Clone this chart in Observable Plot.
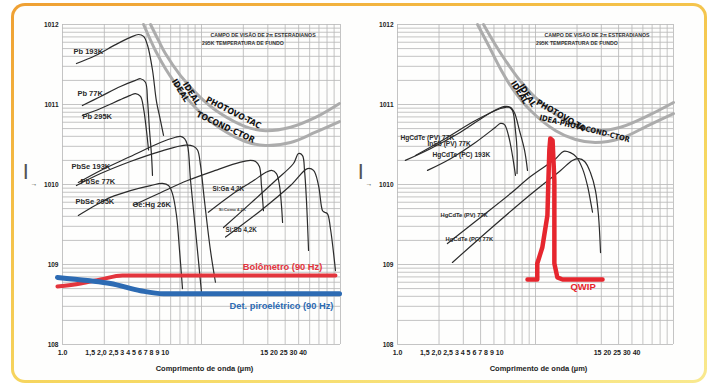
<!DOCTYPE html>
<html>
<head>
<meta charset="utf-8">
<script src="https://cdn.jsdelivr.net/npm/d3@7"></script>
<script src="https://cdn.jsdelivr.net/npm/@observablehq/plot@0.6"></script>
<style>
  html, body { margin: 0; padding: 0; background: #ffffff; }
  #wrap { position: relative; width: 711px; height: 389px; overflow: hidden; }
  #card { position: absolute; left: 11px; top: 3px; width: 696px; height: 380px; border-radius: 14px;
          background: linear-gradient(160deg, #efa033 0%, #f4bd45 30%, #f6d862 65%, #f9e98f 100%); }
  #cardInner { position: absolute; left: 3px; top: 3px; right: 3px; bottom: 3px; border-radius: 11px; background: #fefefd; }
  .panel { position: absolute; top: 0; }
  #left { left: 0px; }
  #right { left: 355px; }
  svg { overflow: visible; }
</style>
</head>
<body>
<div id="wrap">
  <div id="card"><div id="cardInner"></div></div>
  <div id="left" class="panel"></div>
  <div id="right" class="panel"></div>
</div>
<script>
// ---------------- axes / text data ----------------
const yTicks = [1e8, 1e9, 1e10, 1e11, 1e12];
const xGrid = [1, 2, 3, 4, 5, 6, 7, 8, 9, 10, 20, 30, 40, 50, 60, 70, 80, 90, 100];
const yMantissas = [1, 2, 3, 4, 5, 6, 7, 8, 9];
const yDecades = [1e8, 1e9, 1e10, 1e11];
const xTickLabels = [
  { label: "1.0", at: 1 },
  { label: "1,5 2,0 2,5 3 4 5 6 7 8 9 10", at: 2.92 },
  { label: "15 20 25 30 40", at: 39 }
];
const xTitle = "Comprimento de onda (µm)";
const headerLines = [
  { text: "CAMPO DE VISÃO DE 2π ESTERADIANOS", x: 11.6, y: 7.3e11 },
  { text: "295K TEMPERATURA DE FUNDO", x: 10.1, y: 5.8e11 }
];
const axisGlyphs = [
  { t: "|", y: 1.5e10 },
  { t: "→", y: 1.03e10 }
];

// ---------------- left panel: detector curves [wavelength µm, D*] ----------------
const pb193 = [[1.26,3.25e11],[1.73,4.1e11],[2.41,5.6e11],[3.08,6.9e11],[3.52,7.5e11],[3.83,7.1e11],[4.09,5.5e11],[4.44,2.7e11],[4.74,1.1e11],[5.07,6.3e10],[5.33,4.1e10]];
const pb77 = [[1.39,9.7e10],[1.88,1.26e11],[2.61,1.68e11],[3.35,2.0e11],[3.64,2.1e11],[3.95,1.9e11],[4.09,1.12e11],[4.23,4.7e10],[4.37,2.3e10],[4.44,1.3e10]];
const pb295 = [[1.39,7.3e10],[1.88,8.9e10],[2.61,1.15e11],[3.08,1.3e11],[3.35,1.37e11],[3.64,1.26e11],[3.83,8.9e10],[4.02,4.7e10],[4.16,2.7e10]];
const pbse193 = [[1.30,1.06e10],[1.88,1.5e10],[3.08,2.24e10],[5.07,3.35e10],[6.50,3.9e10],[7.06,4.0e10],[7.55,3.75e10],[7.93,3.1e10],[8.34,1.12e10],[9.05,2.7e9],[10.0,4.5e8]];
const pbse77 = [[1.26,9.7e9],[1.88,1.37e10],[3.08,1.94e10],[5.07,2.6e10],[7.67,3.1e10],[8.75,3.0e10],[9.36,2.7e10],[9.84,1.73e10],[10.5,6.3e9],[11.6,1.5e9],[12.6,6.0e8]];
const pbse295 = [[1.30,4.1e9],[1.73,5.5e9],[2.21,6.9e9],[3.08,8.4e9],[4.30,9.7e9],[5.24,1.03e10],[5.79,9.7e9],[6.18,7.7e9],[6.61,4.1e9],[6.95,1.5e9],[7.30,5.0e8]];
const gehg26 = [[3.24,5.5e9],[5.07,7.9e9],[7.93,1.12e10],[12.6,1.5e10],[19.1,1.9e10],[22.5,2.0e10],[24.5,1.94e10],[26.1,1.68e10],[27.0,9.7e9],[27.9,4.7e9]];
const siga42 = [[11.2,4.5e9],[16.2,7.3e9],[23.7,1.12e10],[28.9,1.41e10],[31.9,1.5e10],[34.6,1.37e10],[36.4,9.7e9],[37.6,5.5e9],[38.3,3.35e9]];
const sicomo42 = [[14.4,2.9e9],[22.5,5.8e9],[34.1,1.12e10],[45.9,1.83e10],[49.9,2.44e10],[53.3,2.3e10],[55.1,1.5e10],[56.9,6.3e9],[58.9,1.5e9]];
const sisb42 = [[14.9,2.2e9],[26.6,4.7e9],[43.7,9.7e9],[57.9,1.58e10],[64.0,1.5e10],[69.5,9.7e9],[74.3,4.7e9],[76.8,4.5e9],[80.6,4.3e9],[84.7,2.8e9],[92.0,8.4e8]];

// ideal (photon limited) curves, left panel
const idealPVLeft = [[4.30,1.0e12],[4.91,6.3e11],[5.51,4.3e11],[7.06,2.3e11],[9.84,1.22e11],[13.7,7.7e10],[20.7,5.3e10],[28.9,4.7e10],[43.7,5.2e10],[66.1,6.9e10],[98.4,1.03e11]];
const idealPCLeft = [[3.83,1.0e12],[4.67,4.7e11],[5.51,2.8e11],[7.06,1.5e11],[9.84,7.9e10],[13.7,5.0e10],[20.7,3.45e10],[28.9,3.07e10],[43.7,3.35e10],[66.1,4.5e10],[98.4,6.1e10]];

// thermal detectors, left panel
const bolometer = [[0.92,5.3e8],[1.35,5.8e8],[1.88,6.5e8],[2.70,7.3e8],[10,7.3e8],[92.0,7.3e8]];
const pyro = [[0.92,6.9e8],[1.51,6.3e8],[2.21,5.8e8],[3.64,4.7e8],[5.33,4.3e8],[10,4.3e8],[98.4,4.3e8]];

// labels, left panel
const leftMainLabels = [
  { text: "Pb 193K", x: 1.20, y: 4.6e11 },
  { text: "Pb 77K", x: 1.28, y: 1.37e11 },
  { text: "Pb 295K", x: 1.39, y: 7.1e10 },
  { text: "PbSe 193K", x: 1.16, y: 1.68e10 },
  { text: "PbSe 77K", x: 1.35, y: 1.09e10 },
  { text: "PbSe 295K", x: 1.24, y: 6.1e9 },
  { text: "Ge:Hg 26K", x: 3.19, y: 5.6e9 }
];
const leftSiLabels = [
  { text: "Si:Ga 4,2K", x: 12.0, y: 8.9e9 },
  { text: "Si:Sb 4,2K", x: 14.9, y: 2.74e9 }
];
const leftTinyLabels = [
  { text: "Si:Como 4,2K", x: 13.3, y: 4.87e9 }
];
const bolometerLabel = [{ text: "Bolômetro (90 Hz)", x: 74, y: 9.4e8 }];
const pyroLabel = [{ text: "Det. piroelétrico (90 Hz)", x: 89, y: 3.07e8 }];
const leftIdealTexts = [
  { text: "IDEAL", x: 7.06, y: 1.5e11, r: 58 },
  { text: "IDEAL", x: 8.47, y: 1.37e11, r: 58 },
  { text: "PHOTOVO-TAC", x: 17.0, y: 7.9e10, r: 27 },
  { text: "TOCOND-CTOR", x: 14.9, y: 5.2e10, r: 25 }
];

// ---------------- right panel ----------------
const hgcdtePV77a = [[1.14,2.0e10],[1.73,2.8e10],[2.86,4.5e10],[4.72,7.9e10],[5.86,9.4e10],[6.37,9.4e10],[6.81,8.4e10],[7.16,4.7e10],[7.35,2.7e10],[7.35,1.37e10]];
const insbPV77 = [[1.35,2.3e10],[2.23,3.76e10],[3.67,6.3e10],[5.57,8.9e10],[6.06,9.2e10],[6.59,9.2e10],[7.04,7.9e10],[7.66,4.7e10],[8.32,2.7e10],[8.75,1.5e10]];
const hgcdtePC193 = [[1.65,1.5e10],[2.42,2.1e10],[3.67,3.35e10],[5.13,5.2e10],[5.57,5.8e10],[5.96,5.6e10],[6.37,4.1e10],[6.81,2.3e10],[7.16,1.3e10]];
const hgcdtePV77b = [[2.30,1.83e9],[3.99,3.87e9],[6.59,7.7e9],[9.20,1.26e10],[14.0,2.1e10],[16.0,2.6e10],[17.9,2.5e10],[19.8,2.2e10],[21.9,1.58e10],[23.8,9.7e9],[25.0,6.3e9],[25.9,4.5e9]];
const hgcdtePC77 = [[2.50,1.06e9],[4.72,2.8e9],[9.20,7.5e9],[15.2,1.5e10],[18.5,2.0e10],[20.5,2.1e10],[22.7,1.94e10],[25.0,1.41e10],[27.2,8.4e9],[28.6,4.1e9],[29.6,1.41e9]];
const qwip = [[8.75,6.5e8],[10.3,6.5e8],[10.3,1.03e9],[11.2,1.63e9],[12.2,4.1e9],[12.4,1.12e10],[12.6,2.7e10],[12.8,3.76e10],[13.3,3.55e10],[13.7,1.12e10],[13.7,1.03e9],[14.4,6.9e8],[15.7,6.5e8],[30.6,6.5e8]];

const idealPVRight = [[4.20,1.0e12],[5.05,5.8e11],[6.06,3.55e11],[7.53,2.1e11],[10.0,1.22e11],[15.2,6.9e10],[21.2,5.2e10],[27.2,4.7e10],[41.3,5.2e10],[65.9,7.3e10],[100,1.06e11]];
const idealPCRight = [[3.80,1.0e12],[4.56,5.5e11],[5.57,2.8e11],[6.81,1.58e11],[9.20,8.4e10],[14.0,4.7e10],[19.5,3.65e10],[27.2,3.35e10],[41.3,3.76e10],[65.9,5.5e10],[100,7.7e10]];

const rightMainLabels = [
  { text: "HgCdTe (PV) 77K", x: 1.05, y: 3.87e10 },
  { text: "InSb (PV) 77K", x: 1.65, y: 3.25e10 },
  { text: "HgCdTe (PC) 193K", x: 1.79, y: 2.37e10 }
];
const rightLowLabels = [
  { text: "HgCdTe (PV) 77K", x: 2.05, y: 4.1e9 },
  { text: "HgCdTe (PC) 77K", x: 2.23, y: 2.1e9 }
];
const qwipLabel = [{ text: "QWIP", x: 17.9, y: 5.2e8 }];
const rightIdealTexts = [
  { text: "IDEAL", x: 7.66, y: 1.41e11, r: 58 },
  { text: "IDEAL", x: 8.75, y: 1.3e11, r: 58 },
  { text: "PHOTOVO-TA", x: 15.2, y: 7.3e10, r: 30 },
  { text: "IDEA-PHOTOCOND-CTOR", x: 22.7, y: 5.0e10, r: 14 }
];

// ---------------- helpers ----------------
const FONT = '"Liberation Sans", Arial, Helvetica, sans-serif';
const NARROW = '"Liberation Sans Narrow", "Arial Narrow", "DejaVu Sans Condensed", "Liberation Sans", sans-serif';
const GRID = "#b9b9b9";
const yGrid = yDecades.flatMap(d => yMantissas.map(m => m * d)).concat([1e12]);
const rowsOf = (series) => Object.entries(series).flatMap(([name, pts]) => pts.map(([x, y]) => ({ name, x, y })));

function textGroup(data, opts) {
  return Plot.text(data, { x: "x", y: "y", text: "text", fontWeight: "bold", fontFamily: FONT, ...opts });
}

function basePanel({ width, marginLeft, marginRight, marks }) {
  return Plot.plot({
    width, height: 389,
    marginLeft, marginRight, marginTop: 24, marginBottom: 45,
    x: { type: "log", domain: [1, 100], axis: null },
    y: { type: "log", domain: [1e8, 1e12], axis: null },
    style: { fontFamily: FONT, fontWeight: "bold", background: "transparent", color: "#222" },
    marks: [
      Plot.ruleX(xGrid, { stroke: GRID, strokeWidth: 0.85 }),
      Plot.ruleY(yGrid, { stroke: GRID, strokeWidth: 0.85 }),
      Plot.axisY({ ticks: yTicks, tickFormat: d => "10" + Math.round(Math.log10(d)), tickSize: 0, tickPadding: 4, label: null, fontSize: 6.5, fontWeight: "bold" }),
      Plot.text(xTickLabels, { x: "at", text: "label", frameAnchor: "bottom", dy: 10, fontSize: 7, fontWeight: "bold", fill: "#222" }),
      Plot.text([xTitle], { text: d => d, frameAnchor: "bottom", dx: 3, dy: 26, fontSize: 7.5, fontWeight: "bold", fill: "#222" }),
      Plot.text(axisGlyphs.slice(0, 1), { y: "y", text: "t", frameAnchor: "left", dx: -39, fontSize: 16, fontWeight: "bold", fill: "#555" }),
      Plot.text(axisGlyphs.slice(1), { y: "y", text: "t", frameAnchor: "left", dx: -32, fontSize: 7, fontWeight: "normal", fill: "#444" }),
      textGroup(headerLines, { textAnchor: "start", fontSize: 5.2, fill: "#333" }),
      ...marks
    ]
  });
}

// ---------------- left panel ----------------
const leftDetectors = rowsOf({
  "Pb 193K": pb193, "Pb 77K": pb77, "Pb 295K": pb295,
  "PbSe 193K": pbse193, "PbSe 77K": pbse77, "PbSe 295K": pbse295,
  "Ge:Hg 26K": gehg26, "Si:Ga 4,2K": siga42, "Si:Como 4,2K": sicomo42, "Si:Sb 4,2K": sisb42
});
const leftIdeal = rowsOf({ pv: idealPVLeft, pc: idealPCLeft });

const left = basePanel({
  width: 355, marginLeft: 62, marginRight: 15,
  marks: [
    Plot.line(leftIdeal, { x: "x", y: "y", z: "name", stroke: "#acacac", strokeWidth: 3, curve: "catmull-rom" }),
    Plot.line(leftDetectors, { x: "x", y: "y", z: "name", stroke: "#2b2b2b", strokeWidth: 1.2, curve: "catmull-rom" }),
    Plot.line(bolometer, { x: d => d[0], y: d => d[1], stroke: "#e3353d", strokeWidth: 4, curve: "monotone-x" }),
    Plot.line(pyro, { x: d => d[0], y: d => d[1], stroke: "#2d6bb3", strokeWidth: 5, curve: "monotone-x" }),
    textGroup(leftMainLabels, { textAnchor: "start", fontSize: 7.5, fill: "#2a2a2a" }),
    textGroup(leftSiLabels, { textAnchor: "start", fontSize: 6.3, fill: "#2a2a2a" }),
    textGroup(leftTinyLabels, { textAnchor: "start", fontSize: 4.2, fill: "#444" }),
    textGroup(bolometerLabel, { textAnchor: "end", fontSize: 9.3, fill: "#e3353d" }),
    textGroup(pyroLabel, { textAnchor: "end", fontSize: 9.3, fill: "#2d6bb3" }),
    ...leftIdealTexts.map(t => Plot.text([t], { x: "x", y: "y", text: "text", rotate: t.r, fontSize: 8.5, fontWeight: "bold", fontFamily: NARROW, fill: "#111" }))
  ]
});
document.getElementById("left").appendChild(left);

// ---------------- right panel ----------------
const rightDetectors = rowsOf({
  "HgCdTe (PV) 77K a": hgcdtePV77a, "InSb (PV) 77K": insbPV77, "HgCdTe (PC) 193K": hgcdtePC193,
  "HgCdTe (PV) 77K b": hgcdtePV77b, "HgCdTe (PC) 77K": hgcdtePC77
});
const rightIdeal = rowsOf({ pv: idealPVRight, pc: idealPCRight });

const right = basePanel({
  width: 356, marginLeft: 42, marginRight: 38,
  marks: [
    Plot.line(rightIdeal, { x: "x", y: "y", z: "name", stroke: "#acacac", strokeWidth: 3, curve: "catmull-rom" }),
    Plot.line(rightDetectors, { x: "x", y: "y", z: "name", stroke: "#2b2b2b", strokeWidth: 1.2, curve: "catmull-rom" }),
    Plot.line(qwip, { x: d => d[0], y: d => d[1], stroke: "#e6262e", strokeWidth: 4.5, strokeLinejoin: "round", curve: "linear" }),
    textGroup(rightMainLabels, { textAnchor: "start", fontSize: 6.6, fill: "#2a2a2a" }),
    textGroup(rightLowLabels, { textAnchor: "start", fontSize: 5.8, fill: "#2a2a2a" }),
    textGroup(qwipLabel, { textAnchor: "start", fontSize: 9.5, fill: "#e6262e" }),
    ...rightIdealTexts.map(t => Plot.text([t], { x: "x", y: "y", text: "text", rotate: t.r, fontSize: t.text.length > 12 ? 7.5 : 8.5, fontWeight: "bold", fontFamily: NARROW, fill: "#111" }))
  ]
});
document.getElementById("right").appendChild(right);
</script>
</body>
</html>
